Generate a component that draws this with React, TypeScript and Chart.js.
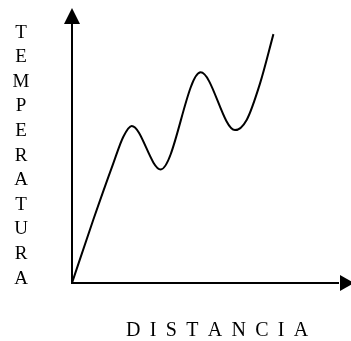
import { useEffect, useRef } from "react";
import { Chart, registerables } from "chart.js";

Chart.register(...registerables);

// Temperature profile along the distance (arbitrary units, 0..100)
const distance = [0, 7.6, 14.8, 18.4, 21.4, 31.8, 46.1, 58.4, 62.6, 67.4, 72.2];
const temperature = [0, 22.9, 43.5, 53.2, 57.1, 41.3, 76.6, 55.6, 59.3, 72.6, 90.5];

const yTitle = "TEMPERATURA";
const xTitle = "DISTANCIA";

const SERIF = "'Liberation Serif', 'Times New Roman', serif";

// Draws both axes as plain lines ending in solid arrowheads, plus the titles.
const arrowAxes = {
  id: "arrowAxes",
  beforeDatasetsDraw(chart: any) {
    const { ctx, chartArea } = chart;
    const { left, right, top, bottom } = chartArea;
    ctx.save();
    ctx.strokeStyle = "#000";
    ctx.fillStyle = "#000";
    ctx.lineWidth = 2;

    // vertical axis
    ctx.beginPath();
    ctx.moveTo(left, bottom + 1);
    ctx.lineTo(left, top + 14);
    ctx.stroke();
    ctx.beginPath();
    ctx.moveTo(left, top);
    ctx.lineTo(left - 8, top + 16);
    ctx.lineTo(left + 8, top + 16);
    ctx.closePath();
    ctx.fill();

    // horizontal axis
    ctx.beginPath();
    ctx.moveTo(left - 1, bottom);
    ctx.lineTo(right - 12, bottom);
    ctx.stroke();
    ctx.beginPath();
    ctx.moveTo(right + 3, bottom);
    ctx.lineTo(right - 11, bottom - 8);
    ctx.lineTo(right - 11, bottom + 8);
    ctx.closePath();
    ctx.fill();
    ctx.restore();
  },
  afterDraw(chart: any) {
    const { ctx, chartArea } = chart;
    ctx.save();
    ctx.fillStyle = "#000";

    // stacked letters of the vertical title
    ctx.font = `19px ${SERIF}`;
    ctx.textAlign = "center";
    ctx.textBaseline = "alphabetic";
    yTitle.split("").forEach((ch, i) => {
      ctx.fillText(ch, 21, 37.5 + i * 24.6);
    });

    // spaced-out horizontal title
    ctx.font = `20px ${SERIF}`;
    ctx.textAlign = "left";
    const spacing = 9.3;
    let x = chartArea.left + 54;
    xTitle.split("").forEach((ch) => {
      ctx.fillText(ch, x, 336);
      x += ctx.measureText(ch).width + spacing;
    });
    ctx.restore();
  },
};

export default function App() {
  const canvasRef = useRef<HTMLCanvasElement | null>(null);

  useEffect(() => {
    const canvas = canvasRef.current;
    if (!canvas) return;
    const chart = new Chart(canvas, {
      type: "line",
      data: {
        datasets: [
          {
            data: distance.map((d, i) => ({ x: d, y: temperature[i] })),
            borderColor: "#000",
            borderWidth: 2,
            pointRadius: 0,
            fill: false,
            cubicInterpolationMode: "monotone",
          },
        ],
      },
      options: {
        animation: false,
        responsive: false,
        devicePixelRatio: 1,
        layout: { padding: { left: 72, top: 8, right: 0, bottom: 58 } },
        scales: {
          x: { type: "linear", min: 0, max: 100, display: false },
          y: { type: "linear", min: 0, max: 100, display: false },
        },
        plugins: {
          legend: { display: false },
          tooltip: { enabled: false },
        },
      },
      plugins: [arrowAxes],
    });
    return () => chart.destroy();
  }, []);

  return (
    <div style={{ position: "fixed", left: 0, top: 0, width: 351, height: 341, background: "#fff" }}>
      <canvas ref={canvasRef} width={351} height={341} style={{ display: "block" }} />
    </div>
  );
}
